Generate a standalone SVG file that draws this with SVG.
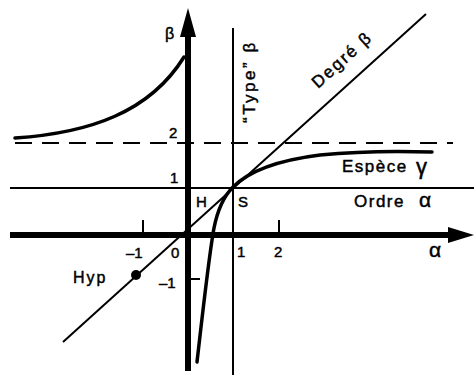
<svg xmlns="http://www.w3.org/2000/svg" width="474" height="375" viewBox="0 0 474 375">
<style>
 .t{font-family:"Liberation Sans",Arial,sans-serif;fill:#000;font-size:15px;stroke:#000;stroke-width:0.45}
 .thin{stroke:#000;stroke-width:2;fill:none}
 .curve{stroke:#000;stroke-width:3.5;fill:none;stroke-linecap:round}
 .axis{stroke:#000;stroke-width:6}
 .tick{stroke:#000;stroke-width:2}
</style>
<rect width="474" height="375" fill="#fff"/>
<g id="grid">
 <line x1="10" y1="188" x2="474" y2="188" class="thin"/>
 <line x1="233" y1="28" x2="233" y2="375" class="thin"/>
 <line x1="15" y1="143" x2="453" y2="143" class="thin" stroke-dasharray="17 10"/>
 <line x1="63" y1="342" x2="426" y2="14" class="thin"/>
</g>
<g id="axes">
 <line x1="10" y1="235" x2="450" y2="235" class="axis"/>
 <polygon points="448,227 474,235 448,243"/>
 <line x1="188" y1="30" x2="188" y2="371" class="axis"/>
 <polygon points="180,37 188,8 196,37"/>
 <line x1="143" y1="220" x2="143" y2="234" class="tick"/>
 <line x1="279" y1="220" x2="279" y2="234" class="tick"/>
 <line x1="188" y1="279" x2="200" y2="279" class="tick"/>
</g>
<g id="curves">
 <path class="curve" d="M15,138 C90,133 150,112 184,57"/>
 <path class="curve" d="M197,362 C203,310 209,255 214,228 C218,208 225,195 233,187 C250,170 280,160 320,155 C360,151 400,151 432,152"/>
 <circle cx="136" cy="275" r="5"/>
</g>
<g id="labels">
 <text class="t" x="165" y="39" style="font-size:16px">β</text>
 <text class="t" x="169" y="138">2</text>
 <text class="t" x="170" y="183">1</text>
 <text class="t" x="196" y="207">H</text>
 <text class="t" x="238" y="207">S</text>
 <text class="t" x="354" y="207" style="font-size:17px" letter-spacing="1.5">Ordre</text>
 <text class="t" x="419" y="207" style="font-size:21px">α</text>
 <text class="t" x="237" y="257">1</text>
 <text class="t" x="274" y="257">2</text>
 <text class="t" x="429" y="257" style="font-size:21px">α</text>
 <text class="t" x="126" y="258">–1</text>
 <text class="t" x="171" y="258">0</text>
 <text class="t" x="159" y="288">–1</text>
 <text class="t" x="73" y="283" style="font-size:16px" letter-spacing="2">Hyp</text>
 <text class="t" x="342" y="172" style="font-size:17px" letter-spacing="1.5">Espèce</text>
 <text class="t" x="416" y="174" style="font-size:22px">γ</text>
 <text class="t" transform="translate(318,89) rotate(-42)" style="font-size:17px" letter-spacing="2">Degré  β</text>
 <text class="t" transform="translate(255,123) rotate(-90)" style="font-size:17px" letter-spacing="2.5">“Type” β</text>
</g>
</svg>
